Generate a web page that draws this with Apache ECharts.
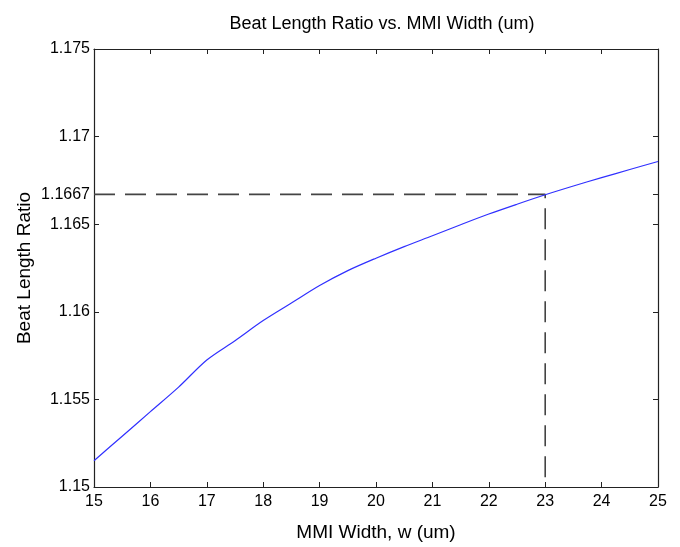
<!DOCTYPE html>
<html>
<head>
<meta charset="utf-8">
<script src="https://cdn.jsdelivr.net/npm/echarts@6/dist/echarts.min.js"></script>
<style>
html,body{margin:0;padding:0;background:#fff;}
#chart{width:680px;height:547px;}
</style>
</head>
<body>
<div id="chart"></div>
<script>
// ---- data ----
var widths = [15, 15.5, 16, 16.5, 17, 17.5, 18, 18.5, 19, 19.5, 20, 20.5, 21, 21.5, 22, 22.5, 23, 23.5, 24, 24.5, 25];
var ratios = [1.1515, 1.1529, 1.1543, 1.1557, 1.15725, 1.15835, 1.1595, 1.1605, 1.1615, 1.16235, 1.16306, 1.16372, 1.16434, 1.16497, 1.16558, 1.16614, 1.16668, 1.16718, 1.16766, 1.16812, 1.16858];
var xTicks = [15, 16, 17, 18, 19, 20, 21, 22, 23, 24, 25];
var yTicks = [1.15, 1.155, 1.16, 1.165, 1.1667, 1.17, 1.175];
var markX = 23;
var markY = 1.1667;
var xMin = 15, xMax = 25, yMin = 1.15, yMax = 1.175;

var titleText = 'Beat Length Ratio vs. MMI Width (um)';
var xName = 'MMI Width, w (um)';
var yName = 'Beat Length Ratio';

var curve = widths.map(function (w, i) { return [w, ratios[i]]; });
var guide = [[xMin, markY], [markX, markY], [markX, yMin]];

var font = 'Liberation Sans, Arial, sans-serif';
var axisColor = '#222';

function fmtY(v) { return String(parseFloat(Number(v).toFixed(4))); }

var chart = echarts.init(document.getElementById('chart'), null, {renderer: 'canvas'});
chart.setOption({
  backgroundColor: '#fff',
  animation: false,
  title: {
    text: titleText,
    left: 377, top: 10, textAlign: 'center',
    textStyle: {fontFamily: font, fontSize: 18, fontWeight: 'normal', color: '#000'}
  },
  grid: {left: 94, right: 22, top: 49, bottom: 57, containLabel: false},
  xAxis: [{
    type: 'value', min: xMin, max: xMax, interval: 1,
    name: xName, nameLocation: 'middle', nameGap: 36,
    nameTextStyle: {fontFamily: font, fontSize: 19, color: '#000'},
    axisLine: {show: true, lineStyle: {color: axisColor, width: 1.2}},
    axisTick: {show: true, inside: true, length: 5, lineStyle: {color: axisColor}},
    axisLabel: {show: true, fontFamily: font, fontSize: 16, color: '#000', margin: 7,
      customValues: xTicks},
    splitLine: {show: false}
  }, {
    type: 'value', position: 'top', min: xMin, max: xMax, interval: 1,
    axisLine: {show: true, lineStyle: {color: axisColor, width: 1.2}},
    axisTick: {show: true, inside: true, length: 5, lineStyle: {color: axisColor}},
    axisLabel: {show: false},
    splitLine: {show: false}
  }],
  yAxis: [{
    type: 'value', min: yMin, max: yMax,
    name: yName, nameLocation: 'middle', nameGap: 60, nameRotate: 90, nameMoveOverlap: false,
    nameTextStyle: {fontFamily: font, fontSize: 19, color: '#000'},
    axisLine: {show: true, lineStyle: {color: axisColor, width: 1.2}},
    axisTick: {show: true, inside: true, length: 5, lineStyle: {color: axisColor}, customValues: yTicks},
    axisLabel: {show: true, fontFamily: font, fontSize: 16, color: '#000', margin: 4,
      customValues: yTicks, formatter: fmtY},
    splitLine: {show: false}
  }, {
    type: 'value', position: 'right', min: yMin, max: yMax,
    axisLine: {show: true, lineStyle: {color: axisColor, width: 1.2}},
    axisTick: {show: true, inside: true, length: 5, lineStyle: {color: axisColor}, customValues: yTicks},
    axisLabel: {show: false},
    splitLine: {show: false}
  }],
  series: [{
    type: 'line', data: guide, symbol: 'none', silent: true,
    lineStyle: {color: '#444', width: 1.6, type: [21, 10]},
    z: 2
  }, {
    type: 'line', data: curve, symbol: 'none', smooth: 0.3,
    lineStyle: {color: '#3030ff', width: 1.2},
    z: 3
  }]
});
</script>
</body>
</html>
